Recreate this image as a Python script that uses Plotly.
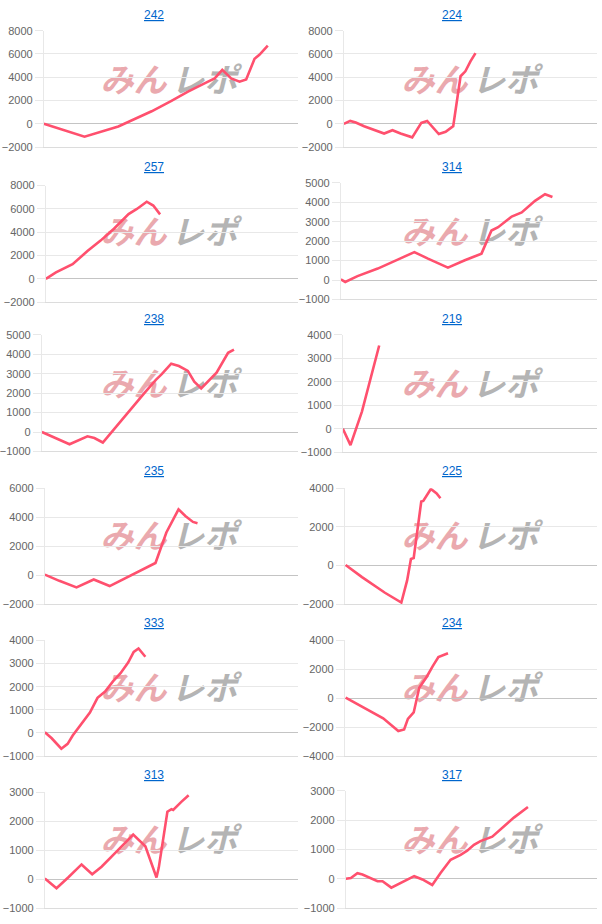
import plotly.graph_objects as go

# ---------------- data ----------------
machines = ["242", "224", "257", "314", "238", "219", "235", "225", "333", "234", "313", "317"]

g_242 = [0, 1600, 2930, 4240, 5020, 5670, 6460, 6720, 7020, 7370, 7700, 7960, 8290, 8480, 8810]
d_242 = [0, -1100, -230, 1080, 1980, 2770, 3620, 3900, 4630, 3900, 3620, 3810, 5590, 5930, 6720]

g_224 = [0, 250, 470, 800, 1590, 1920, 2240, 2700, 3060, 3290, 3750, 4020, 4280, 4320, 4610, 4800, 5000, 5200]
d_224 = [0, 250, 120, -210, -830, -550, -830, -1160, 80, 250, -880, -680, -260, -210, 4090, 4510, 5360, 6070]

g_257 = [0, 400, 1060, 1650, 2170, 2700, 3280, 3610, 4000, 4260, 4530]
d_257 = [0, 550, 1260, 2380, 3280, 4300, 5560, 6000, 6620, 6290, 5530]

g_314 = [0, 170, 650, 1440, 2220, 2870, 3400, 4180, 4840, 5490, 5880, 6140, 6670, 7060, 7580, 7970, 8260]
d_314 = [30, -100, 200, 590, 1050, 1440, 1100, 640, 1020, 1360, 2550, 2720, 3270, 3480, 4080, 4420, 4280]

g_238 = [0, 550, 1080, 1780, 2050, 2380, 2880, 3400, 4000, 4450, 4680, 5050, 5350, 5700, 5950, 6220, 6480, 6820, 7270, 7500]
d_238 = [0, -310, -630, -220, -310, -540, 255, 1100, 2000, 2690, 2980, 3520, 3400, 3150, 2590, 2250, 2590, 3060, 4080, 4250]

g_219 = [0, 150, 300, 750, 1430]
d_219 = [0, -320, -700, 730, 3550]

g_235 = [0, 570, 1250, 1930, 2560, 3290, 3740, 4370, 4800, 5280, 5550, 5850, 6030]
d_235 = [40, -390, -840, -300, -750, -110, 340, 840, 2950, 4550, 4090, 3680, 3590]

g_225 = [30, 680, 1590, 2240, 2470, 2620, 2730, 3030, 3110, 3410, 3640, 3790]
d_225 = [30, -600, -1410, -1920, -770, 340, 390, 3320, 3350, 3970, 3740, 3490]

g_333 = [0, 270, 650, 900, 1100, 1480, 1780, 2080, 2380, 2690, 2990, 3290, 3510, 3700, 3970]
d_333 = [30, -230, -680, -470, -110, 450, 880, 1520, 1790, 2230, 2580, 3040, 3500, 3650, 3290]

g_234 = [30, 760, 1520, 2120, 2350, 2500, 2730, 2950, 3260, 3480, 3710, 4090]
d_234 = [50, -640, -1390, -2270, -2160, -1430, -980, 730, 1520, 2200, 2840, 3110]

g_313 = [0, 460, 920, 1450, 1870, 2240, 2830, 3490, 3970, 4410, 4500, 4840, 5000, 5070, 5390, 5680]
d_313 = [20, -310, 60, 510, 170, 430, 950, 1540, 1140, 60, 400, 2330, 2420, 2390, 2670, 2900]

g_317 = [0, 200, 460, 660, 1260, 1460, 1810, 2190, 2720, 3050, 3440, 3770, 4170, 4570, 4830, 5100, 5360, 5830, 6160, 6690, 7250]
d_317 = [0, 30, 190, 150, -80, -80, -300, -130, 90, -20, -210, 200, 650, 820, 960, 1160, 1290, 1440, 1700, 2090, 2450]

games = [g_242, g_224, g_257, g_314, g_238, g_219, g_235, g_225, g_333, g_234, g_313, g_317]
diffs = [d_242, d_224, d_257, d_314, d_238, d_219, d_235, d_225, d_333, d_234, d_313, d_317]

y_min = [-2000, -2000, -2000, -1000, -1000, -1000, -2000, -2000, -1000, -4000, -1000, -1000]
y_max = [8000, 8000, 8000, 5000, 5000, 4000, 6000, 4000, 4000, 4000, 3000, 3000]
y_step = [2000, 2000, 2000, 1000, 1000, 1000, 2000, 2000, 1000, 2000, 1000, 1000]

# ---------------- layout (screen pixels) ----------------
W, H = 602, 924
ROW_H = 154
axis_left = [42, 343, 44, 340, 40, 342, 43, 344, 43, 344, 43, 345]
top_off = [25, 25, 28, 25.3, 25.3, 25.3, 26.7, 26.7, 26.7, 26.7, 26.7, 25.3]
bot_off = [143, 143, 146, 143.3, 143.3, 144, 144, 144, 144, 144, 144, 144]

LINE = "rgb(255,80,110)"
GRID = "#e8e8e8"


def px_x(p):
    return p / W


def px_y(p):
    return 1 - p / H


fig = go.Figure()
layout = dict(
    width=W, height=H, margin=dict(l=0, r=0, t=0, b=0),
    paper_bgcolor="white", plot_bgcolor="rgba(0,0,0,0)", showlegend=False,
    font=dict(family="Liberation Sans, Arial, sans-serif"),
)
annotations = []
shapes = []

for i, name in enumerate(machines):
    r, c = divmod(i, 2)
    n = i + 1
    xa = "xaxis" if n == 1 else f"xaxis{n}"
    ya = "yaxis" if n == 1 else f"yaxis{n}"
    xr = "x" if n == 1 else f"x{n}"
    yr = "y" if n == 1 else f"y{n}"
    x0 = axis_left[i]
    x1 = 297 if c == 0 else 597
    top = r * ROW_H + top_off[i]
    bot = r * ROW_H + bot_off[i]

    fig.add_trace(go.Scatter(
        x=games[i], y=diffs[i], mode="lines",
        line=dict(color=LINE, width=2.6),
        xaxis=xr, yaxis=yr, hoverinfo="skip",
    ))
    layout[xa] = dict(
        domain=[px_x(x0), px_x(x1)], range=[0, 10000], anchor=yr,
        showticklabels=False, showgrid=False, zeroline=False,
        showline=True, linecolor="#dcdcdc", linewidth=1, ticks="", fixedrange=True,
    )
    layout[ya] = dict(
        domain=[px_y(bot), px_y(top)], range=[y_min[i], y_max[i]],
        tick0=y_min[i], dtick=y_step[i], anchor=xr,
        showgrid=True, gridcolor=GRID, gridwidth=1,
        zeroline=True, zerolinecolor="#c4c4c4", zerolinewidth=1,
        showline=True, linecolor=GRID, linewidth=1,
        ticks="outside", ticklen=8, tickcolor=GRID, tickwidth=1,
        ticklabelstandoff=0,
        tickfont=dict(size=11, color="#666666"), fixedrange=True,
    )
    # title
    annotations.append(dict(
        text=f"<u>{name}</u>", xref="paper", yref="paper",
        x=px_x(153 + c * 298), y=px_y(r * ROW_H + 9.5),
        xanchor="center", yanchor="middle", showarrow=False,
        font=dict(size=12, color="#0066cc", family="Liberation Sans, Arial, sans-serif"),
    ))
    # watermark (behind the line)
    cy = r * ROW_H + 78
    for txt, cx, col in (("みん", 132 + c * 302, "#eaa9ae"), ("レポ", 203 + c * 302, "#b4b4b4")):
        shapes.append(dict(
            type="rect", xref="paper", yref="paper",
            x0=px_x(cx - 36), x1=px_x(cx + 36), y0=px_y(cy + 16), y1=px_y(cy - 16),
            layer="below",
            line=dict(width=0), fillcolor="rgba(0,0,0,0)",
            label=dict(text=txt, textposition="middle center",
                       font=dict(family="Noto Sans CJK JP", size=33, color=col,
                                 weight="bold", style="italic")),
        ))

layout["annotations"] = annotations
layout["shapes"] = shapes
fig.update_layout(**layout)
fig.write_html("out.html", config={"displayModeBar": False},
               post_script="document.body.style.margin='0';")
